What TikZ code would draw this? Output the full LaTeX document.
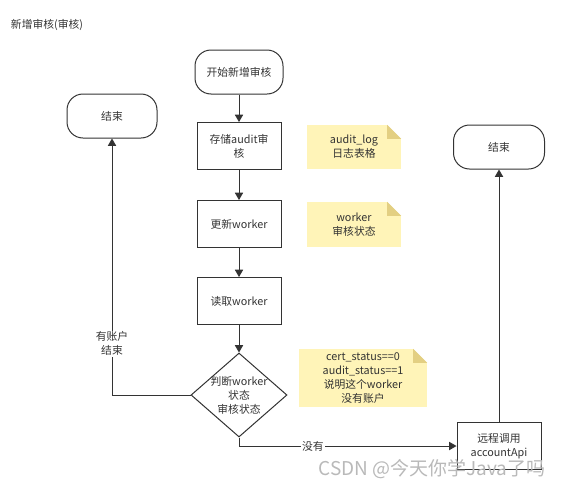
\documentclass[tikz,border=0pt]{standalone}
\usepackage{fontspec}
\setmainfont{Noto Sans CJK SC}
\usetikzlibrary{arrows,shapes.geometric}
\definecolor{notefill}{HTML}{FFF4B8}
\definecolor{notefold}{HTML}{E3CF82}
\definecolor{linegray}{HTML}{333333}

\begin{document}
\begin{tikzpicture}[x=1pt,y=-1pt,font=\fontsize{10.8}{14}\selectfont]
	\tikzstyle{every node}=[inner sep=1pt, align=center, text=linegray]
	\tikzstyle{term}=[draw=linegray, line width=1pt, rounded corners=16pt, minimum width=88pt, minimum height=44pt]
	\tikzstyle{proc}=[draw=linegray, line width=1pt, minimum width=84pt, minimum height=47pt]
	\tikzstyle{note}=[fill=notefill, minimum width=94pt, minimum height=44pt]
	\tikzstyle{flow}=[draw=linegray, line width=1pt, -triangle 60]
	\useasboundingbox (0,0) rectangle (564,490);
	\draw (47,25) node (title) {新增审核(审核)};
	\draw (239,72) node (start) [term] {开始新增审核};
	\draw (239,146) node (store) [proc] {存储audit审\\核};
	\draw (239,224) node (upd) [proc] {更新worker};
	\draw (239,301) node (read) [proc] {读取worker};
	\draw (239,395) node (dia) [diamond, draw=linegray, line width=1pt, minimum width=96pt, minimum height=84pt, inner sep=0pt] {};
	\draw (dia) node (diatext) {判断worker\\状态\\审核状态};
	\draw (112,116) node (endL) [term, minimum width=90pt] {结束};
	\draw (499,446) node (remote) [proc] {远程调用\\accountApi};
	\draw (499,147) node (endR) [term, minimum width=91pt] {结束};
	% notes
	\draw (354,147) node (log) [note] {audit\_log\\日志表格};
	\draw (354,224.5) node (state) [note, minimum height=45pt] {worker\\审核状态};
	\draw (363,378) node (hint) [note, minimum width=128pt, minimum height=58pt] {cert\_status==0\\audit\_status==1\\说明这个worker\\没有账户};
	\foreach \n in {log,state,hint} {
		\fill[white] ([xshift=-14pt]\n.north east) -- (\n.north east) -- ([yshift=-14pt]\n.north east) -- cycle;
		\fill[notefold] ([xshift=-14pt]\n.north east) -- ([xshift=-14pt,yshift=-14pt]\n.north east) -- ([yshift=-14pt]\n.north east) -- cycle;
	}
	% connectors
	\draw[flow] (start) -- (store);
	\draw[flow] (store) -- (upd);
	\draw[flow] (upd) -- (read);
	\draw[flow] (read) -- (dia);
	\draw[flow] (dia.west) -| node[pos=0.6, fill=white] {有账户\\结束} (endL.south);
	\draw[flow] (dia.south) |- node[pos=0.67, fill=white] {没有} (remote.west);
	\draw[flow] (remote) -- (endR);
	\draw (432,469) node (mark) [text=gray!55, font=\fontsize{19}{22}\selectfont] {CSDN @今天你学Java了吗};
\end{tikzpicture}
\end{document}
